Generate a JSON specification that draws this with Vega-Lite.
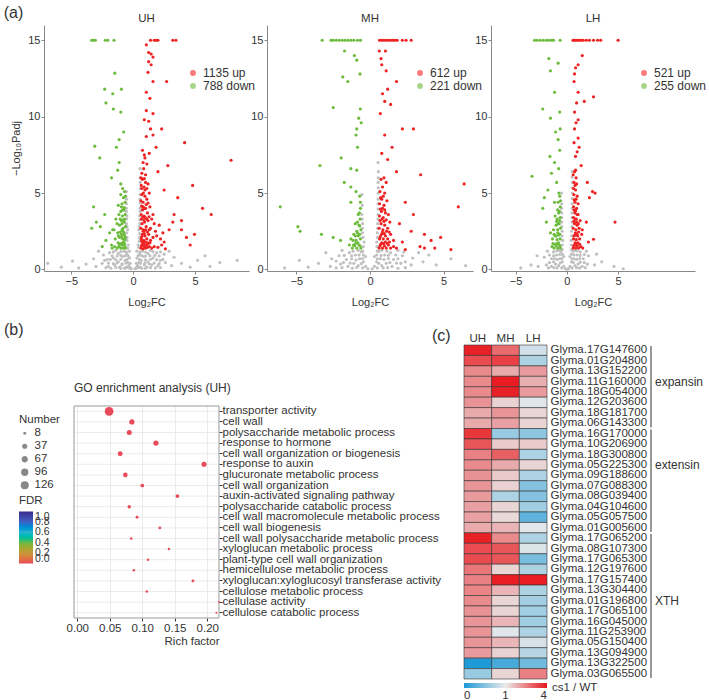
{
"$schema": "https://vega.github.io/schema/vega-lite/v6.json",
"padding": {"left": 3, "top": 4, "right": 0, "bottom": 0},
"config": {
 "font": "Liberation Sans",
 "view": {"stroke": null},
 "axis": {"labelColor": "#333", "titleColor": "#333", "labelFontSize": 11, "titleFontSize": 11, "titleFontWeight": "normal", "domainColor": "#888", "tickColor": "#888", "tickSize": 3, "grid": false},
 "title": {"fontSize": 11.5, "fontWeight": "normal", "color": "#333"},
 "legend": {"labelColor": "#333", "titleColor": "#333", "labelFontSize": 11.5, "titleFontSize": 11.5, "titleFontWeight": "normal", "labelOverlap": false}
},
"datasets": {
"uh": [
{"x":-0.15,"y":0.05,"g":"n"},{"x":0.15,"y":0.05,"g":"n"},{"x":-0.25,"y":0.12,"g":"n"},{"x":0.25,"y":0.12,"g":"n"},{"x":-0.35,"y":0.25,"g":"n"},{"x":0.35,"y":0.25,"g":"n"},{"x":-0.5,"y":0.15,"g":"n"},{"x":0.5,"y":0.15,"g":"n"},{"x":-0.7,"y":0.08,"g":"n"},{"x":0.7,"y":0.08,"g":"n"},{"x":-0.45,"y":0.45,"g":"n"},{"x":0.45,"y":0.45,"g":"n"},{"x":-0.9,"y":0.3,"g":"n"},{"x":0.9,"y":0.3,"g":"n"},{"x":-0.65,"y":0.6,"g":"n"},{"x":0.65,"y":0.6,"g":"n"},{"x":-1.1,"y":0.15,"g":"n"},{"x":1.1,"y":0.15,"g":"n"},{"x":-1.2,"y":0.5,"g":"n"},{"x":1.2,"y":0.5,"g":"n"},{"x":-0.85,"y":0.85,"g":"n"},{"x":0.85,"y":0.85,"g":"n"},{"x":-1.5,"y":0.3,"g":"n"},{"x":1.5,"y":0.3,"g":"n"},{"x":-1.6,"y":0.75,"g":"n"},{"x":1.6,"y":0.75,"g":"n"},{"x":-1.2,"y":1.05,"g":"n"},{"x":1.2,"y":1.05,"g":"n"},{"x":-2.0,"y":0.2,"g":"n"},{"x":2.0,"y":0.25,"g":"n"},{"x":-2.1,"y":0.65,"g":"n"},{"x":2.2,"y":0.6,"g":"n"},{"x":-1.9,"y":1.1,"g":"n"},{"x":1.9,"y":1.1,"g":"n"},{"x":-2.5,"y":0.4,"g":"n"},{"x":2.6,"y":0.45,"g":"n"},{"x":-2.4,"y":0.95,"g":"n"},{"x":2.5,"y":1.0,"g":"n"},{"x":-3.0,"y":0.2,"g":"n"},{"x":3.1,"y":0.25,"g":"n"},{"x":-3.2,"y":0.7,"g":"n"},{"x":3.3,"y":0.8,"g":"n"},{"x":-0.5,"y":1.0,"g":"n"},{"x":0.5,"y":1.0,"g":"n"},{"x":-0.4,"y":1.6,"g":"n"},{"x":0.4,"y":1.6,"g":"n"},{"x":-0.5,"y":2.1,"g":"n"},{"x":0.5,"y":2.1,"g":"n"},{"x":-0.45,"y":2.6,"g":"n"},{"x":0.45,"y":2.6,"g":"n"},{"x":-0.55,"y":3.0,"g":"n"},{"x":0.55,"y":3.0,"g":"n"},{"x":-0.5,"y":3.5,"g":"n"},{"x":0.52,"y":3.5,"g":"n"},{"x":-0.55,"y":4.0,"g":"n"},{"x":0.56,"y":4.0,"g":"n"},{"x":-0.53,"y":4.6,"g":"n"},{"x":0.56,"y":4.6,"g":"n"},{"x":-0.55,"y":5.1,"g":"n"},{"x":0.57,"y":5.3,"g":"n"},{"x":0.55,"y":6.0,"g":"n"},{"x":0.56,"y":6.6,"g":"n"},{"x":-0.3,"y":0.75,"g":"n"},{"x":0.3,"y":0.75,"g":"n"},{"x":-0.3,"y":1.2,"g":"n"},{"x":0.3,"y":1.2,"g":"n"},{"x":-3.8,"y":0.35,"g":"n"},{"x":3.9,"y":0.4,"g":"n"},{"x":-4.4,"y":0.1,"g":"n"},{"x":4.6,"y":0.15,"g":"n"},{"x":-4.9,"y":0.55,"g":"n"},{"x":5.2,"y":0.6,"g":"n"},{"x":-6.9,"y":0.4,"g":"n"},{"x":6.2,"y":0.2,"g":"n"},{"x":7.0,"y":0.45,"g":"n"},{"x":8.4,"y":0.6,"g":"n"},{"x":5.8,"y":0.9,"g":"n"},{"x":-5.8,"y":0.15,"g":"n"},{"x":-2.8,"y":1.2,"g":"n"},{"x":2.9,"y":1.2,"g":"n"},{"x":-1.4,"y":1.25,"g":"n"},{"x":1.4,"y":1.25,"g":"n"},{"x":-0.75,"y":1.2,"g":"n"},{"x":0.75,"y":1.2,"g":"n"},
{"x":-2.2,"y":0.12,"g":"n"},{"x":-1.8,"y":0.08,"g":"n"},{"x":-1.4,"y":0.13,"g":"n"},{"x":-1.0,"y":0.07,"g":"n"},{"x":-0.6,"y":0.12,"g":"n"},{"x":-0.3,"y":0.1,"g":"n"},{"x":0.3,"y":0.1,"g":"n"},{"x":0.6,"y":0.13,"g":"n"},{"x":1.0,"y":0.08,"g":"n"},{"x":1.4,"y":0.12,"g":"n"},{"x":1.8,"y":0.1,"g":"n"},{"x":2.2,"y":0.13,"g":"n"},{"x":-2.0,"y":0.42,"g":"n"},{"x":-1.6,"y":0.38,"g":"n"},{"x":-1.3,"y":0.43,"g":"n"},{"x":-0.9,"y":0.37,"g":"n"},{"x":-0.6,"y":0.42,"g":"n"},{"x":-0.25,"y":0.4,"g":"n"},{"x":0.25,"y":0.4,"g":"n"},{"x":0.6,"y":0.4,"g":"n"},{"x":0.95,"y":0.43,"g":"n"},{"x":1.3,"y":0.37,"g":"n"},{"x":1.7,"y":0.42,"g":"n"},{"x":2.1,"y":0.38,"g":"n"},{"x":-1.85,"y":0.66,"g":"n"},{"x":-1.4,"y":0.63,"g":"n"},{"x":-1.0,"y":0.67,"g":"n"},{"x":-0.5,"y":0.64,"g":"n"},{"x":0.5,"y":0.66,"g":"n"},{"x":1.0,"y":0.63,"g":"n"},{"x":1.4,"y":0.67,"g":"n"},{"x":1.9,"y":0.64,"g":"n"},{"x":-2.3,"y":0.6,"g":"n"},{"x":2.4,"y":0.66,"g":"n"},{"x":-1.7,"y":0.9,"g":"n"},{"x":-1.3,"y":0.88,"g":"n"},{"x":-1.0,"y":0.92,"g":"n"},{"x":-0.65,"y":0.9,"g":"n"},{"x":-0.4,"y":0.88,"g":"n"},{"x":0.4,"y":0.9,"g":"n"},{"x":0.65,"y":0.92,"g":"n"},{"x":1.0,"y":0.88,"g":"n"},{"x":1.35,"y":0.9,"g":"n"},{"x":1.75,"y":0.92,"g":"n"},{"x":2.1,"y":0.88,"g":"n"},{"x":-1.6,"y":1.15,"g":"n"},{"x":-1.0,"y":1.17,"g":"n"},{"x":-0.55,"y":1.14,"g":"n"},{"x":0.55,"y":1.16,"g":"n"},{"x":1.0,"y":1.14,"g":"n"},{"x":1.6,"y":1.17,"g":"n"},{"x":2.2,"y":1.15,"g":"n"},{"x":-0.45,"y":1.4,"g":"n"},{"x":0.45,"y":1.45,"g":"n"},{"x":-0.5,"y":1.9,"g":"n"},{"x":0.5,"y":1.85,"g":"n"},{"x":-0.52,"y":2.4,"g":"n"},{"x":0.52,"y":2.35,"g":"n"},{"x":-0.5,"y":2.8,"g":"n"},{"x":0.5,"y":2.8,"g":"n"},{"x":-0.53,"y":3.3,"g":"n"},{"x":0.54,"y":3.25,"g":"n"},{"x":-0.55,"y":3.8,"g":"n"},{"x":0.55,"y":3.8,"g":"n"},{"x":-0.55,"y":4.3,"g":"n"},{"x":0.56,"y":4.35,"g":"n"},{"x":0.56,"y":4.9,"g":"n"},{"x":0.57,"y":5.7,"g":"n"},
{"x":-3.35,"y":15,"g":"d"},{"x":-3.2,"y":15,"g":"d"},{"x":-3.05,"y":15,"g":"d"},{"x":-2.25,"y":15,"g":"d"},{"x":-2.05,"y":15,"g":"d"},{"x":-1.55,"y":15,"g":"d"},{"x":-1.49,"y":12.85,"g":"d"},{"x":-2.3,"y":11.8,"g":"d"},{"x":-0.95,"y":11.8,"g":"d"},{"x":-1.65,"y":11.5,"g":"d"},{"x":-2.2,"y":10.9,"g":"d"},{"x":-1.6,"y":10.5,"g":"d"},{"x":-1.0,"y":10.3,"g":"d"},{"x":-0.77,"y":9.0,"g":"d"},{"x":-1.13,"y":8.5,"g":"d"},{"x":-3.1,"y":8.07,"g":"d"},{"x":-1.35,"y":8.0,"g":"d"},{"x":-2.7,"y":7.3,"g":"d"},{"x":-1.13,"y":7.0,"g":"d"},{"x":-1.25,"y":6.5,"g":"d"},{"x":-1.75,"y":6.0,"g":"d"},{"x":-1.0,"y":5.6,"g":"d"},{"x":-3.2,"y":4.1,"g":"d"},{"x":-2.3,"y":3.6,"g":"d"},{"x":-2.97,"y":3.1,"g":"d"},{"x":-3.35,"y":2.7,"g":"d"},{"x":-2.65,"y":2.8,"g":"d"},{"x":-1.9,"y":2.4,"g":"d"},{"x":-1.65,"y":2.6,"g":"d"},{"x":-1.75,"y":1.6,"g":"d"},{"x":-2.2,"y":1.9,"g":"d"},{"x":-2.5,"y":1.5,"g":"d"},
{"x":-0.62,"y":1.4,"g":"d"},{"x":-0.7,"y":1.7,"g":"d"},{"x":-0.8,"y":1.4,"g":"d"},{"x":-0.9,"y":1.6,"g":"d"},{"x":-1.0,"y":1.4,"g":"d"},{"x":-1.15,"y":1.5,"g":"d"},{"x":-1.3,"y":1.4,"g":"d"},{"x":-1.5,"y":1.5,"g":"d"},{"x":-1.7,"y":1.4,"g":"d"},{"x":-0.65,"y":2.1,"g":"d"},{"x":-0.75,"y":2.4,"g":"d"},{"x":-0.85,"y":2.0,"g":"d"},{"x":-0.95,"y":2.3,"g":"d"},{"x":-1.1,"y":2.1,"g":"d"},{"x":-1.25,"y":2.4,"g":"d"},{"x":-1.45,"y":2.0,"g":"d"},{"x":-0.62,"y":2.8,"g":"d"},{"x":-0.72,"y":3.1,"g":"d"},{"x":-0.83,"y":2.7,"g":"d"},{"x":-0.95,"y":3.2,"g":"d"},{"x":-1.1,"y":2.9,"g":"d"},{"x":-1.3,"y":3.0,"g":"d"},{"x":-0.65,"y":3.6,"g":"d"},{"x":-0.75,"y":3.9,"g":"d"},{"x":-0.87,"y":3.5,"g":"d"},{"x":-1.0,"y":3.8,"g":"d"},{"x":-1.15,"y":3.6,"g":"d"},{"x":-0.65,"y":4.4,"g":"d"},{"x":-0.78,"y":4.7,"g":"d"},{"x":-0.9,"y":4.3,"g":"d"},{"x":-1.0,"y":4.9,"g":"d"},{"x":-0.7,"y":5.1,"g":"d"},{"x":-1.2,"y":4.2,"g":"d"},{"x":-1.4,"y":3.3,"g":"d"},{"x":-1.55,"y":2.6,"g":"d"},{"x":-0.68,"y":1.95,"g":"d"},{"x":-0.9,"y":2.6,"g":"d"},
{"x":-0.68,"y":1.55,"g":"d"},{"x":-0.78,"y":1.8,"g":"d"},{"x":-0.88,"y":1.7,"g":"d"},{"x":-1.0,"y":1.7,"g":"d"},{"x":-1.1,"y":1.65,"g":"d"},{"x":-1.22,"y":1.75,"g":"d"},{"x":-0.7,"y":2.25,"g":"d"},{"x":-0.82,"y":2.5,"g":"d"},{"x":-0.92,"y":2.15,"g":"d"},{"x":-1.05,"y":2.45,"g":"d"},{"x":-1.2,"y":2.2,"g":"d"},{"x":-0.68,"y":3.3,"g":"d"},{"x":-0.8,"y":3.25,"g":"d"},{"x":-0.9,"y":3.0,"g":"d"},{"x":-1.05,"y":3.3,"g":"d"},{"x":-0.72,"y":4.05,"g":"d"},{"x":-0.85,"y":3.9,"g":"d"},{"x":-0.95,"y":4.1,"g":"d"},{"x":-0.62,"y":4.8,"g":"d"},{"x":-0.85,"y":5.3,"g":"d"},
{"x":1.4,"y":15,"g":"u"},{"x":1.7,"y":15,"g":"u"},{"x":1.85,"y":15,"g":"u"},{"x":2.0,"y":15,"g":"u"},{"x":3.2,"y":15,"g":"u"},{"x":3.45,"y":15,"g":"u"},{"x":1.06,"y":14.7,"g":"u"},{"x":1.25,"y":14.2,"g":"u"},{"x":1.45,"y":14.1,"g":"u"},{"x":1.6,"y":13.9,"g":"u"},{"x":1.25,"y":13.6,"g":"u"},{"x":1.45,"y":13.4,"g":"u"},{"x":1.2,"y":12.9,"g":"u"},{"x":1.6,"y":12.3,"g":"u"},{"x":2.7,"y":12.3,"g":"u"},{"x":1.06,"y":11.6,"g":"u"},{"x":1.35,"y":11.2,"g":"u"},{"x":1.06,"y":10.4,"g":"u"},{"x":1.6,"y":10.2,"g":"u"},{"x":0.9,"y":9.8,"g":"u"},{"x":1.25,"y":9.7,"g":"u"},{"x":1.4,"y":9.2,"g":"u"},{"x":2.3,"y":9.2,"g":"u"},{"x":1.06,"y":8.7,"g":"u"},{"x":1.6,"y":8.8,"g":"u"},{"x":4.15,"y":8.3,"g":"u"},{"x":1.85,"y":8.0,"g":"u"},{"x":0.9,"y":7.5,"g":"u"},{"x":7.9,"y":7.15,"g":"u"},{"x":2.8,"y":6.8,"g":"u"},{"x":2.0,"y":6.4,"g":"u"},{"x":4.8,"y":5.5,"g":"u"},{"x":5.6,"y":4.0,"g":"u"},{"x":6.3,"y":3.6,"g":"u"},{"x":3.6,"y":4.7,"g":"u"},{"x":2.5,"y":5.2,"g":"u"},{"x":3.3,"y":3.6,"g":"u"},{"x":3.9,"y":3.2,"g":"u"},{"x":4.95,"y":2.3,"g":"u"},{"x":4.6,"y":1.6,"g":"u"},{"x":4.3,"y":2.1,"g":"u"},{"x":3.2,"y":3.1,"g":"u"},{"x":2.9,"y":2.6,"g":"u"},{"x":3.9,"y":2.6,"g":"u"},
{"x":0.62,"y":1.4,"g":"u"},{"x":0.7,"y":1.6,"g":"u"},{"x":0.8,"y":1.35,"g":"u"},{"x":0.9,"y":1.5,"g":"u"},{"x":1.0,"y":1.4,"g":"u"},{"x":1.15,"y":1.45,"g":"u"},{"x":1.3,"y":1.5,"g":"u"},{"x":1.5,"y":1.4,"g":"u"},{"x":1.7,"y":1.5,"g":"u"},{"x":2.0,"y":1.45,"g":"u"},{"x":2.3,"y":1.6,"g":"u"},{"x":0.65,"y":2.0,"g":"u"},{"x":0.75,"y":2.3,"g":"u"},{"x":0.85,"y":1.9,"g":"u"},{"x":0.95,"y":2.2,"g":"u"},{"x":1.1,"y":2.0,"g":"u"},{"x":1.25,"y":2.3,"g":"u"},{"x":1.4,"y":1.9,"g":"u"},{"x":1.6,"y":2.1,"g":"u"},{"x":1.9,"y":2.2,"g":"u"},{"x":2.2,"y":2.0,"g":"u"},{"x":2.5,"y":1.8,"g":"u"},{"x":0.62,"y":2.7,"g":"u"},{"x":0.72,"y":3.0,"g":"u"},{"x":0.82,"y":2.6,"g":"u"},{"x":0.92,"y":3.1,"g":"u"},{"x":1.05,"y":2.8,"g":"u"},{"x":1.2,"y":3.2,"g":"u"},{"x":1.4,"y":2.7,"g":"u"},{"x":1.7,"y":3.0,"g":"u"},{"x":2.1,"y":2.9,"g":"u"},{"x":0.64,"y":3.6,"g":"u"},{"x":0.75,"y":3.9,"g":"u"},{"x":0.88,"y":3.5,"g":"u"},{"x":1.0,"y":4.0,"g":"u"},{"x":1.15,"y":3.7,"g":"u"},{"x":1.35,"y":4.1,"g":"u"},{"x":1.6,"y":3.6,"g":"u"},{"x":0.62,"y":4.5,"g":"u"},{"x":0.7,"y":4.9,"g":"u"},{"x":0.8,"y":4.4,"g":"u"},{"x":0.95,"y":4.8,"g":"u"},{"x":1.1,"y":4.6,"g":"u"},{"x":1.3,"y":5.0,"g":"u"},{"x":0.65,"y":5.5,"g":"u"},{"x":0.75,"y":5.9,"g":"u"},{"x":0.88,"y":5.4,"g":"u"},{"x":1.0,"y":5.7,"g":"u"},{"x":1.2,"y":5.6,"g":"u"},{"x":0.7,"y":6.3,"g":"u"},{"x":0.85,"y":6.6,"g":"u"},{"x":1.0,"y":6.2,"g":"u"},{"x":0.8,"y":7.0,"g":"u"},{"x":0.95,"y":7.3,"g":"u"},{"x":1.1,"y":6.9,"g":"u"},{"x":0.75,"y":7.8,"g":"u"},{"x":1.3,"y":7.6,"g":"u"},{"x":2.6,"y":1.35,"g":"u"},{"x":1.8,"y":2.5,"g":"u"},{"x":1.5,"y":3.3,"g":"u"},{"x":2.4,"y":2.4,"g":"u"},{"x":0.68,"y":1.85,"g":"u"},{"x":0.9,"y":2.55,"g":"u"},{"x":1.15,"y":1.75,"g":"u"},
{"x":0.68,"y":1.55,"g":"u"},{"x":0.78,"y":1.75,"g":"u"},{"x":0.88,"y":1.65,"g":"u"},{"x":0.98,"y":1.8,"g":"u"},{"x":1.08,"y":1.6,"g":"u"},{"x":1.2,"y":1.7,"g":"u"},{"x":1.35,"y":1.75,"g":"u"},{"x":0.7,"y":2.15,"g":"u"},{"x":0.8,"y":2.5,"g":"u"},{"x":0.9,"y":2.35,"g":"u"},{"x":1.0,"y":2.6,"g":"u"},{"x":1.15,"y":2.45,"g":"u"},{"x":1.3,"y":2.6,"g":"u"},{"x":0.67,"y":3.3,"g":"u"},{"x":0.77,"y":3.45,"g":"u"},{"x":0.87,"y":3.25,"g":"u"},{"x":0.98,"y":3.4,"g":"u"},{"x":1.1,"y":3.3,"g":"u"},{"x":1.28,"y":3.45,"g":"u"},{"x":0.68,"y":4.15,"g":"u"},{"x":0.8,"y":4.1,"g":"u"},{"x":0.9,"y":4.0,"g":"u"},{"x":1.05,"y":4.25,"g":"u"},{"x":1.2,"y":4.35,"g":"u"},{"x":0.7,"y":5.3,"g":"u"},{"x":0.82,"y":5.0,"g":"u"},{"x":0.95,"y":5.2,"g":"u"},{"x":1.1,"y":5.3,"g":"u"},{"x":0.63,"y":6.0,"g":"u"},{"x":0.9,"y":5.95,"g":"u"}
],
"mh": [
{"x":-0.15,"y":0.05,"g":"n"},{"x":0.15,"y":0.05,"g":"n"},{"x":-0.3,"y":0.2,"g":"n"},{"x":0.3,"y":0.2,"g":"n"},{"x":-0.5,"y":0.1,"g":"n"},{"x":0.5,"y":0.1,"g":"n"},{"x":-0.45,"y":0.5,"g":"n"},{"x":0.45,"y":0.5,"g":"n"},{"x":-0.8,"y":0.25,"g":"n"},{"x":0.8,"y":0.25,"g":"n"},{"x":-0.7,"y":0.7,"g":"n"},{"x":0.7,"y":0.7,"g":"n"},{"x":-1.1,"y":0.4,"g":"n"},{"x":1.1,"y":0.4,"g":"n"},{"x":-1.0,"y":0.95,"g":"n"},{"x":1.0,"y":0.95,"g":"n"},{"x":-1.5,"y":0.2,"g":"n"},{"x":1.5,"y":0.2,"g":"n"},{"x":-1.6,"y":0.65,"g":"n"},{"x":1.6,"y":0.65,"g":"n"},{"x":-1.4,"y":1.1,"g":"n"},{"x":1.4,"y":1.1,"g":"n"},{"x":-2.0,"y":0.35,"g":"n"},{"x":2.1,"y":0.4,"g":"n"},{"x":-2.1,"y":0.9,"g":"n"},{"x":2.2,"y":0.9,"g":"n"},{"x":-2.7,"y":0.2,"g":"n"},{"x":2.8,"y":0.3,"g":"n"},{"x":-2.6,"y":0.7,"g":"n"},{"x":2.9,"y":0.75,"g":"n"},{"x":-0.5,"y":1.2,"g":"n"},{"x":0.5,"y":1.2,"g":"n"},{"x":-0.4,"y":1.8,"g":"n"},{"x":0.45,"y":1.8,"g":"n"},{"x":-0.5,"y":2.4,"g":"n"},{"x":0.5,"y":2.4,"g":"n"},{"x":-0.5,"y":3.0,"g":"n"},{"x":0.52,"y":3.0,"g":"n"},{"x":-0.55,"y":3.6,"g":"n"},{"x":0.55,"y":3.6,"g":"n"},{"x":-0.52,"y":4.2,"g":"n"},{"x":0.55,"y":4.3,"g":"n"},{"x":-0.55,"y":4.9,"g":"n"},{"x":0.56,"y":5.0,"g":"n"},{"x":0.55,"y":5.7,"g":"n"},{"x":0.57,"y":6.4,"g":"n"},{"x":0.55,"y":7.0,"g":"n"},{"x":-0.3,"y":0.85,"g":"n"},{"x":0.3,"y":0.85,"g":"n"},{"x":-3.5,"y":0.4,"g":"n"},{"x":3.6,"y":0.5,"g":"n"},{"x":-4.2,"y":0.15,"g":"n"},{"x":4.5,"y":0.3,"g":"n"},{"x":-5.8,"y":0.1,"g":"n"},{"x":5.5,"y":0.7,"g":"n"},{"x":6.5,"y":0.25,"g":"n"},{"x":-4.8,"y":0.6,"g":"n"},{"x":3.3,"y":1.1,"g":"n"},{"x":-3.0,"y":1.1,"g":"n"},{"x":-1.9,"y":1.25,"g":"n"},{"x":1.9,"y":1.25,"g":"n"},{"x":-0.8,"y":1.25,"g":"n"},{"x":0.8,"y":1.25,"g":"n"},{"x":4.0,"y":0.95,"g":"n"},
{"x":-2.3,"y":0.1,"g":"n"},{"x":-1.9,"y":0.12,"g":"n"},{"x":-1.2,"y":0.08,"g":"n"},{"x":-0.9,"y":0.13,"g":"n"},{"x":0.9,"y":0.1,"g":"n"},{"x":1.2,"y":0.12,"g":"n"},{"x":1.9,"y":0.08,"g":"n"},{"x":2.4,"y":0.12,"g":"n"},{"x":-1.8,"y":0.45,"g":"n"},{"x":-1.35,"y":0.42,"g":"n"},{"x":-0.6,"y":0.38,"g":"n"},{"x":0.6,"y":0.4,"g":"n"},{"x":1.35,"y":0.45,"g":"n"},{"x":1.8,"y":0.42,"g":"n"},{"x":2.4,"y":0.5,"g":"n"},{"x":-2.3,"y":0.55,"g":"n"},{"x":-1.25,"y":0.7,"g":"n"},{"x":-0.95,"y":0.62,"g":"n"},{"x":-0.5,"y":0.72,"g":"n"},{"x":0.5,"y":0.7,"g":"n"},{"x":0.95,"y":0.65,"g":"n"},{"x":1.25,"y":0.72,"g":"n"},{"x":1.9,"y":0.7,"g":"n"},{"x":-1.75,"y":0.92,"g":"n"},{"x":-1.25,"y":0.9,"g":"n"},{"x":-0.75,"y":0.95,"g":"n"},{"x":-0.45,"y":0.95,"g":"n"},{"x":0.45,"y":0.95,"g":"n"},{"x":0.75,"y":0.92,"g":"n"},{"x":1.25,"y":0.93,"g":"n"},{"x":1.75,"y":0.95,"g":"n"},{"x":-1.15,"y":1.2,"g":"n"},{"x":-0.6,"y":1.15,"g":"n"},{"x":0.6,"y":1.18,"g":"n"},{"x":1.15,"y":1.2,"g":"n"},{"x":2.3,"y":1.15,"g":"n"},{"x":-0.45,"y":1.5,"g":"n"},{"x":0.47,"y":1.5,"g":"n"},{"x":-0.48,"y":2.1,"g":"n"},{"x":0.5,"y":2.1,"g":"n"},{"x":-0.52,"y":2.7,"g":"n"},{"x":0.52,"y":2.7,"g":"n"},{"x":-0.53,"y":3.3,"g":"n"},{"x":0.54,"y":3.3,"g":"n"},{"x":0.55,"y":3.95,"g":"n"},{"x":0.56,"y":4.6,"g":"n"},{"x":0.56,"y":5.35,"g":"n"},{"x":0.57,"y":6.0,"g":"n"},
{"x":-3.25,"y":15,"g":"d"},{"x":-2.65,"y":15,"g":"d"},{"x":-2.5,"y":15,"g":"d"},{"x":-2.3,"y":15,"g":"d"},{"x":-2.1,"y":15,"g":"d"},{"x":-1.9,"y":15,"g":"d"},{"x":-1.7,"y":15,"g":"d"},{"x":-1.5,"y":15,"g":"d"},{"x":-1.3,"y":15,"g":"d"},{"x":-1.1,"y":15,"g":"d"},{"x":-0.85,"y":15,"g":"d"},{"x":-0.65,"y":15,"g":"d"},{"x":-1.73,"y":14.3,"g":"d"},{"x":-1.06,"y":14.0,"g":"d"},{"x":-0.9,"y":13.7,"g":"d"},{"x":-0.68,"y":12.8,"g":"d"},{"x":-1.85,"y":12.6,"g":"d"},{"x":-1.51,"y":12.3,"g":"d"},{"x":-2.5,"y":10.6,"g":"d"},{"x":-0.66,"y":10.5,"g":"d"},{"x":-0.77,"y":9.9,"g":"d"},{"x":-0.6,"y":9.6,"g":"d"},{"x":-0.9,"y":9.2,"g":"d"},{"x":-0.95,"y":8.8,"g":"d"},{"x":-0.85,"y":8.0,"g":"d"},{"x":-1.96,"y":7.3,"g":"d"},{"x":-3.4,"y":6.8,"g":"d"},{"x":-1.3,"y":6.6,"g":"d"},{"x":-0.9,"y":6.5,"g":"d"},{"x":-1.75,"y":5.7,"g":"d"},{"x":-1.3,"y":5.4,"g":"d"},{"x":-0.95,"y":5.1,"g":"d"},{"x":-1.3,"y":4.4,"g":"d"},{"x":-6.1,"y":4.1,"g":"d"},{"x":-4.9,"y":2.8,"g":"d"},{"x":-4.75,"y":2.5,"g":"d"},{"x":-3.3,"y":2.3,"g":"d"},{"x":-2.5,"y":2.1,"g":"d"},{"x":-2.0,"y":1.9,"g":"d"},{"x":-1.4,"y":1.6,"g":"d"},
{"x":-0.62,"y":1.4,"g":"d"},{"x":-0.75,"y":1.6,"g":"d"},{"x":-0.9,"y":1.4,"g":"d"},{"x":-1.05,"y":1.55,"g":"d"},{"x":-1.2,"y":1.4,"g":"d"},{"x":-0.65,"y":2.0,"g":"d"},{"x":-0.8,"y":2.2,"g":"d"},{"x":-0.95,"y":1.9,"g":"d"},{"x":-1.1,"y":2.3,"g":"d"},{"x":-0.62,"y":2.6,"g":"d"},{"x":-0.75,"y":2.9,"g":"d"},{"x":-0.9,"y":2.5,"g":"d"},{"x":-1.0,"y":3.0,"g":"d"},{"x":-0.68,"y":3.3,"g":"d"},{"x":-0.8,"y":3.6,"g":"d"},{"x":-0.65,"y":4.0,"g":"d"},{"x":-1.3,"y":2.0,"g":"d"},{"x":-0.7,"y":4.8,"g":"d"},
{"x":-0.68,"y":1.55,"g":"d"},{"x":-0.82,"y":1.75,"g":"d"},{"x":-0.98,"y":1.7,"g":"d"},{"x":-1.12,"y":1.6,"g":"d"},{"x":-0.7,"y":2.3,"g":"d"},{"x":-0.85,"y":2.4,"g":"d"},{"x":-1.0,"y":2.2,"g":"d"},{"x":-0.7,"y":2.85,"g":"d"},{"x":-0.85,"y":3.1,"g":"d"},{"x":-0.72,"y":3.7,"g":"d"},{"x":-1.15,"y":1.9,"g":"d"},{"x":-0.65,"y":4.4,"g":"d"},
{"x":0.65,"y":15,"g":"u"},{"x":0.8,"y":15,"g":"u"},{"x":0.95,"y":15,"g":"u"},{"x":1.1,"y":15,"g":"u"},{"x":1.25,"y":15,"g":"u"},{"x":1.4,"y":15,"g":"u"},{"x":1.55,"y":15,"g":"u"},{"x":1.7,"y":15,"g":"u"},{"x":1.85,"y":15,"g":"u"},{"x":2.2,"y":15,"g":"u"},{"x":2.45,"y":15,"g":"u"},{"x":2.8,"y":15,"g":"u"},{"x":0.63,"y":14.3,"g":"u"},{"x":1.05,"y":14.3,"g":"u"},{"x":0.75,"y":13.8,"g":"u"},{"x":0.8,"y":13.4,"g":"u"},{"x":1.1,"y":13.0,"g":"u"},{"x":1.8,"y":12.3,"g":"u"},{"x":1.2,"y":11.8,"g":"u"},{"x":0.85,"y":11.5,"g":"u"},{"x":1.0,"y":11.0,"g":"u"},{"x":1.4,"y":10.8,"g":"u"},{"x":0.7,"y":10.2,"g":"u"},{"x":2.2,"y":9.2,"g":"u"},{"x":2.95,"y":9.2,"g":"u"},{"x":1.0,"y":8.8,"g":"u"},{"x":1.5,"y":8.0,"g":"u"},{"x":0.8,"y":7.6,"g":"u"},{"x":1.2,"y":7.2,"g":"u"},{"x":3.44,"y":6.2,"g":"u"},{"x":6.4,"y":5.6,"g":"u"},{"x":6.0,"y":4.1,"g":"u"},{"x":1.8,"y":6.4,"g":"u"},{"x":0.95,"y":6.0,"g":"u"},{"x":2.4,"y":4.4,"g":"u"},{"x":2.95,"y":3.6,"g":"u"},{"x":2.8,"y":2.5,"g":"u"},{"x":3.7,"y":2.3,"g":"u"},{"x":4.15,"y":1.9,"g":"u"},{"x":4.8,"y":2.1,"g":"u"},{"x":4.4,"y":1.4,"g":"u"},{"x":5.5,"y":1.3,"g":"u"},{"x":3.4,"y":1.5,"g":"u"},{"x":3.7,"y":1.4,"g":"u"},{"x":2.2,"y":1.8,"g":"u"},{"x":2.4,"y":1.3,"g":"u"},{"x":2.0,"y":3.0,"g":"u"},
{"x":0.62,"y":1.4,"g":"u"},{"x":0.72,"y":1.65,"g":"u"},{"x":0.85,"y":1.4,"g":"u"},{"x":0.98,"y":1.55,"g":"u"},{"x":1.1,"y":1.4,"g":"u"},{"x":1.25,"y":1.6,"g":"u"},{"x":1.4,"y":1.4,"g":"u"},{"x":1.6,"y":1.5,"g":"u"},{"x":1.8,"y":1.4,"g":"u"},{"x":0.65,"y":2.0,"g":"u"},{"x":0.78,"y":2.3,"g":"u"},{"x":0.9,"y":2.0,"g":"u"},{"x":1.05,"y":2.2,"g":"u"},{"x":1.2,"y":2.0,"g":"u"},{"x":1.4,"y":2.3,"g":"u"},{"x":1.6,"y":1.9,"g":"u"},{"x":0.62,"y":2.7,"g":"u"},{"x":0.75,"y":3.0,"g":"u"},{"x":0.88,"y":2.6,"g":"u"},{"x":1.0,"y":2.9,"g":"u"},{"x":1.2,"y":2.7,"g":"u"},{"x":1.35,"y":3.1,"g":"u"},{"x":0.64,"y":3.5,"g":"u"},{"x":0.78,"y":3.8,"g":"u"},{"x":0.9,"y":3.4,"g":"u"},{"x":1.05,"y":3.7,"g":"u"},{"x":1.25,"y":3.6,"g":"u"},{"x":0.65,"y":4.3,"g":"u"},{"x":0.8,"y":4.6,"g":"u"},{"x":0.95,"y":4.2,"g":"u"},{"x":1.15,"y":4.5,"g":"u"},{"x":0.68,"y":5.1,"g":"u"},{"x":0.85,"y":5.4,"g":"u"},{"x":1.0,"y":5.0,"g":"u"},{"x":0.75,"y":5.9,"g":"u"},{"x":1.1,"y":5.7,"g":"u"},
{"x":0.68,"y":1.55,"g":"u"},{"x":0.8,"y":1.75,"g":"u"},{"x":0.92,"y":1.7,"g":"u"},{"x":1.05,"y":1.8,"g":"u"},{"x":1.18,"y":1.7,"g":"u"},{"x":1.32,"y":1.8,"g":"u"},{"x":0.7,"y":2.15,"g":"u"},{"x":0.84,"y":2.45,"g":"u"},{"x":0.97,"y":2.35,"g":"u"},{"x":1.12,"y":2.5,"g":"u"},{"x":1.3,"y":2.45,"g":"u"},{"x":0.68,"y":3.2,"g":"u"},{"x":0.82,"y":3.3,"g":"u"},{"x":0.95,"y":3.15,"g":"u"},{"x":1.1,"y":3.25,"g":"u"},{"x":0.7,"y":3.95,"g":"u"},{"x":0.85,"y":4.0,"g":"u"},{"x":1.0,"y":3.9,"g":"u"},{"x":0.72,"y":4.7,"g":"u"},{"x":0.9,"y":4.8,"g":"u"}
],
"lh": [
{"x":-0.15,"y":0.05,"g":"n"},{"x":0.15,"y":0.05,"g":"n"},{"x":-0.3,"y":0.2,"g":"n"},{"x":0.3,"y":0.2,"g":"n"},{"x":-0.5,"y":0.1,"g":"n"},{"x":0.5,"y":0.1,"g":"n"},{"x":-0.45,"y":0.5,"g":"n"},{"x":0.45,"y":0.5,"g":"n"},{"x":-0.8,"y":0.25,"g":"n"},{"x":0.8,"y":0.25,"g":"n"},{"x":-0.7,"y":0.7,"g":"n"},{"x":0.7,"y":0.7,"g":"n"},{"x":-1.1,"y":0.35,"g":"n"},{"x":1.1,"y":0.35,"g":"n"},{"x":-1.0,"y":0.95,"g":"n"},{"x":1.0,"y":0.95,"g":"n"},{"x":-1.5,"y":0.2,"g":"n"},{"x":1.5,"y":0.2,"g":"n"},{"x":-1.5,"y":0.7,"g":"n"},{"x":1.6,"y":0.7,"g":"n"},{"x":-1.3,"y":1.15,"g":"n"},{"x":1.3,"y":1.15,"g":"n"},{"x":-2.0,"y":0.3,"g":"n"},{"x":2.0,"y":0.35,"g":"n"},{"x":-2.2,"y":0.8,"g":"n"},{"x":2.1,"y":0.9,"g":"n"},{"x":-2.8,"y":0.2,"g":"n"},{"x":2.7,"y":0.3,"g":"n"},{"x":-0.45,"y":1.3,"g":"n"},{"x":0.45,"y":1.3,"g":"n"},{"x":-0.4,"y":1.9,"g":"n"},{"x":0.42,"y":1.9,"g":"n"},{"x":-0.45,"y":2.5,"g":"n"},{"x":0.45,"y":2.5,"g":"n"},{"x":-0.5,"y":3.1,"g":"n"},{"x":0.5,"y":3.1,"g":"n"},{"x":-0.5,"y":3.7,"g":"n"},{"x":0.5,"y":3.7,"g":"n"},{"x":-0.5,"y":4.3,"g":"n"},{"x":0.52,"y":4.3,"g":"n"},{"x":-0.52,"y":5.0,"g":"n"},{"x":0.53,"y":5.0,"g":"n"},{"x":0.53,"y":5.7,"g":"n"},{"x":0.52,"y":6.4,"g":"n"},{"x":-0.3,"y":0.85,"g":"n"},{"x":0.3,"y":0.85,"g":"n"},{"x":-3.5,"y":0.3,"g":"n"},{"x":3.4,"y":0.5,"g":"n"},{"x":-4.5,"y":0.1,"g":"n"},{"x":4.6,"y":0.2,"g":"n"},{"x":5.5,"y":0.05,"g":"n"},{"x":-2.9,"y":0.9,"g":"n"},{"x":2.9,"y":1.0,"g":"n"},{"x":-1.9,"y":1.2,"g":"n"},{"x":1.9,"y":1.2,"g":"n"},{"x":-0.8,"y":1.25,"g":"n"},{"x":0.8,"y":1.25,"g":"n"},{"x":0.0,"y":0.02,"g":"n"},
{"x":-1.8,"y":0.1,"g":"n"},{"x":-1.25,"y":0.12,"g":"n"},{"x":-0.95,"y":0.1,"g":"n"},{"x":0.95,"y":0.12,"g":"n"},{"x":1.25,"y":0.1,"g":"n"},{"x":1.8,"y":0.12,"g":"n"},{"x":-1.7,"y":0.45,"g":"n"},{"x":-1.3,"y":0.5,"g":"n"},{"x":-0.65,"y":0.42,"g":"n"},{"x":0.65,"y":0.45,"g":"n"},{"x":1.3,"y":0.48,"g":"n"},{"x":1.7,"y":0.45,"g":"n"},{"x":-1.2,"y":0.72,"g":"n"},{"x":-0.95,"y":0.65,"g":"n"},{"x":-0.5,"y":0.72,"g":"n"},{"x":0.5,"y":0.7,"g":"n"},{"x":0.95,"y":0.66,"g":"n"},{"x":1.25,"y":0.72,"g":"n"},{"x":-1.7,"y":0.95,"g":"n"},{"x":-1.3,"y":0.9,"g":"n"},{"x":-0.7,"y":0.98,"g":"n"},{"x":-0.45,"y":1.0,"g":"n"},{"x":0.45,"y":1.0,"g":"n"},{"x":0.7,"y":0.96,"g":"n"},{"x":1.3,"y":0.92,"g":"n"},{"x":1.7,"y":0.98,"g":"n"},{"x":-1.0,"y":1.22,"g":"n"},{"x":-0.6,"y":1.18,"g":"n"},{"x":0.6,"y":1.2,"g":"n"},{"x":1.0,"y":1.22,"g":"n"},{"x":-0.45,"y":1.6,"g":"n"},{"x":0.45,"y":1.6,"g":"n"},{"x":-0.47,"y":2.2,"g":"n"},{"x":0.47,"y":2.2,"g":"n"},{"x":-0.5,"y":2.8,"g":"n"},{"x":0.5,"y":2.8,"g":"n"},{"x":-0.5,"y":3.4,"g":"n"},{"x":0.52,"y":3.4,"g":"n"},{"x":-0.52,"y":4.0,"g":"n"},{"x":0.53,"y":4.0,"g":"n"},{"x":0.53,"y":4.65,"g":"n"},{"x":0.53,"y":5.35,"g":"n"},{"x":0.52,"y":6.05,"g":"n"},
{"x":-3.15,"y":15,"g":"d"},{"x":-2.9,"y":15,"g":"d"},{"x":-2.6,"y":15,"g":"d"},{"x":-2.3,"y":15,"g":"d"},{"x":-2.0,"y":15,"g":"d"},{"x":-1.75,"y":15,"g":"d"},{"x":-1.5,"y":15,"g":"d"},{"x":-1.3,"y":15,"g":"d"},{"x":-0.65,"y":15,"g":"d"},{"x":-1.76,"y":13.8,"g":"d"},{"x":-0.85,"y":13.5,"g":"d"},{"x":-1.6,"y":13.0,"g":"d"},{"x":-1.2,"y":11.6,"g":"d"},{"x":-2.35,"y":10.5,"g":"d"},{"x":-1.6,"y":9.9,"g":"d"},{"x":-0.7,"y":10.3,"g":"d"},{"x":-1.1,"y":9.0,"g":"d"},{"x":-0.85,"y":8.5,"g":"d"},{"x":-1.65,"y":7.4,"g":"d"},{"x":-0.7,"y":7.8,"g":"d"},{"x":-1.2,"y":7.0,"g":"d"},{"x":-3.4,"y":6.1,"g":"d"},{"x":-1.5,"y":6.3,"g":"d"},{"x":-1.0,"y":5.7,"g":"d"},{"x":-1.85,"y":5.2,"g":"d"},{"x":-2.2,"y":4.7,"g":"d"},{"x":-2.35,"y":4.0,"g":"d"},{"x":-1.2,"y":4.4,"g":"d"},{"x":-2.0,"y":3.1,"g":"d"},{"x":-0.8,"y":6.6,"g":"d"},{"x":-0.65,"y":9.2,"g":"d"},
{"x":-0.62,"y":1.4,"g":"d"},{"x":-0.75,"y":1.6,"g":"d"},{"x":-0.9,"y":1.4,"g":"d"},{"x":-1.05,"y":1.55,"g":"d"},{"x":-1.25,"y":1.4,"g":"d"},{"x":-1.45,"y":1.5,"g":"d"},{"x":-0.65,"y":2.0,"g":"d"},{"x":-0.8,"y":2.25,"g":"d"},{"x":-0.95,"y":1.95,"g":"d"},{"x":-1.15,"y":2.2,"g":"d"},{"x":-1.4,"y":2.0,"g":"d"},{"x":-0.62,"y":2.7,"g":"d"},{"x":-0.75,"y":3.0,"g":"d"},{"x":-0.9,"y":2.6,"g":"d"},{"x":-1.05,"y":2.9,"g":"d"},{"x":-1.3,"y":2.6,"g":"d"},{"x":-0.65,"y":3.4,"g":"d"},{"x":-0.8,"y":3.7,"g":"d"},{"x":-0.95,"y":3.3,"g":"d"},{"x":-1.15,"y":3.5,"g":"d"},{"x":-0.65,"y":4.1,"g":"d"},{"x":-0.85,"y":4.4,"g":"d"},{"x":-0.7,"y":4.8,"g":"d"},{"x":-1.6,"y":2.4,"g":"d"},
{"x":-0.68,"y":1.55,"g":"d"},{"x":-0.82,"y":1.75,"g":"d"},{"x":-0.98,"y":1.7,"g":"d"},{"x":-1.15,"y":1.65,"g":"d"},{"x":-1.35,"y":1.7,"g":"d"},{"x":-0.7,"y":2.3,"g":"d"},{"x":-0.88,"y":2.4,"g":"d"},{"x":-1.05,"y":2.2,"g":"d"},{"x":-1.25,"y":2.3,"g":"d"},{"x":-0.7,"y":3.2,"g":"d"},{"x":-0.85,"y":3.0,"g":"d"},{"x":-1.0,"y":3.15,"g":"d"},{"x":-0.72,"y":3.8,"g":"d"},{"x":-0.9,"y":3.9,"g":"d"},{"x":-0.62,"y":4.5,"g":"d"},{"x":-0.78,"y":5.0,"g":"d"},
{"x":0.6,"y":15,"g":"u"},{"x":0.75,"y":15,"g":"u"},{"x":0.9,"y":15,"g":"u"},{"x":1.05,"y":15,"g":"u"},{"x":1.2,"y":15,"g":"u"},{"x":1.4,"y":15,"g":"u"},{"x":1.6,"y":15,"g":"u"},{"x":1.9,"y":15,"g":"u"},{"x":2.2,"y":15,"g":"u"},{"x":2.6,"y":15,"g":"u"},{"x":3.0,"y":15,"g":"u"},{"x":3.3,"y":15,"g":"u"},{"x":5.0,"y":15,"g":"u"},{"x":1.5,"y":14.0,"g":"u"},{"x":1.1,"y":13.4,"g":"u"},{"x":0.85,"y":13.2,"g":"u"},{"x":0.75,"y":12.8,"g":"u"},{"x":0.7,"y":12.3,"g":"u"},{"x":1.1,"y":11.6,"g":"u"},{"x":2.6,"y":11.3,"g":"u"},{"x":1.7,"y":11.0,"g":"u"},{"x":0.95,"y":10.9,"g":"u"},{"x":0.75,"y":10.3,"g":"u"},{"x":1.1,"y":9.8,"g":"u"},{"x":0.75,"y":9.2,"g":"u"},{"x":1.1,"y":8.6,"g":"u"},{"x":1.2,"y":8.0,"g":"u"},{"x":0.85,"y":7.4,"g":"u"},{"x":1.4,"y":6.8,"g":"u"},{"x":2.0,"y":5.7,"g":"u"},{"x":2.5,"y":5.1,"g":"u"},{"x":2.75,"y":5.0,"g":"u"},{"x":2.2,"y":4.7,"g":"u"},{"x":4.7,"y":3.1,"g":"u"},{"x":2.6,"y":1.98,"g":"u"},{"x":1.9,"y":3.1,"g":"u"},{"x":2.1,"y":1.8,"g":"u"},{"x":0.9,"y":9.6,"g":"u"},{"x":1.0,"y":7.7,"g":"u"},{"x":0.7,"y":8.3,"g":"u"},
{"x":0.62,"y":1.4,"g":"u"},{"x":0.75,"y":1.6,"g":"u"},{"x":0.88,"y":1.4,"g":"u"},{"x":1.0,"y":1.55,"g":"u"},{"x":1.15,"y":1.4,"g":"u"},{"x":1.35,"y":1.5,"g":"u"},{"x":1.55,"y":1.4,"g":"u"},{"x":0.65,"y":2.0,"g":"u"},{"x":0.78,"y":2.25,"g":"u"},{"x":0.92,"y":1.95,"g":"u"},{"x":1.05,"y":2.2,"g":"u"},{"x":1.25,"y":2.0,"g":"u"},{"x":1.45,"y":2.3,"g":"u"},{"x":0.62,"y":2.7,"g":"u"},{"x":0.75,"y":3.0,"g":"u"},{"x":0.88,"y":2.6,"g":"u"},{"x":1.0,"y":2.9,"g":"u"},{"x":1.2,"y":2.7,"g":"u"},{"x":0.64,"y":3.4,"g":"u"},{"x":0.78,"y":3.7,"g":"u"},{"x":0.92,"y":3.3,"g":"u"},{"x":1.1,"y":3.6,"g":"u"},{"x":0.65,"y":4.1,"g":"u"},{"x":0.8,"y":4.4,"g":"u"},{"x":0.95,"y":4.0,"g":"u"},{"x":1.1,"y":4.3,"g":"u"},{"x":0.68,"y":4.9,"g":"u"},{"x":0.85,"y":5.2,"g":"u"},{"x":1.0,"y":4.8,"g":"u"},{"x":0.7,"y":5.7,"g":"u"},{"x":0.9,"y":6.0,"g":"u"},{"x":0.75,"y":6.4,"g":"u"},{"x":1.3,"y":3.2,"g":"u"},{"x":1.5,"y":2.6,"g":"u"},
{"x":0.68,"y":1.55,"g":"u"},{"x":0.8,"y":1.75,"g":"u"},{"x":0.92,"y":1.7,"g":"u"},{"x":1.08,"y":1.75,"g":"u"},{"x":1.25,"y":1.65,"g":"u"},{"x":0.7,"y":2.2,"g":"u"},{"x":0.84,"y":2.4,"g":"u"},{"x":0.98,"y":2.3,"g":"u"},{"x":1.15,"y":2.45,"g":"u"},{"x":0.68,"y":3.15,"g":"u"},{"x":0.82,"y":3.3,"g":"u"},{"x":0.96,"y":3.1,"g":"u"},{"x":1.12,"y":3.0,"g":"u"},{"x":0.7,"y":3.9,"g":"u"},{"x":0.85,"y":3.85,"g":"u"},{"x":1.0,"y":3.6,"g":"u"},{"x":0.72,"y":4.55,"g":"u"},{"x":0.9,"y":4.6,"g":"u"},{"x":0.65,"y":5.3,"g":"u"},{"x":0.8,"y":5.5,"g":"u"},{"x":0.95,"y":5.6,"g":"u"},{"x":0.62,"y":6.2,"g":"u"},{"x":0.85,"y":6.5,"g":"u"}
],
"go": [
{"term":"transporter activity","rf":0.049,"n":220,"fdr":0.0001},
{"term":"cell wall","rf":0.084,"n":80,"fdr":0.001},
{"term":"polysaccharide metabolic process","rf":0.080,"n":72,"fdr":0.001},
{"term":"response to hormone","rf":0.121,"n":78,"fdr":0.002},
{"term":"cell wall organization or biogenesis","rf":0.066,"n":70,"fdr":0.002},
{"term":"response to auxin","rf":0.195,"n":76,"fdr":0.002},
{"term":"glucuronate metabolic process","rf":0.074,"n":60,"fdr":0.003},
{"term":"cell wall organization","rf":0.100,"n":40,"fdr":0.003},
{"term":"auxin-activated signaling pathway","rf":0.154,"n":40,"fdr":0.004},
{"term":"polysaccharide catabolic process","rf":0.080,"n":35,"fdr":0.005},
{"term":"cell wall macromolecule metabolic process","rf":0.092,"n":24,"fdr":0.005},
{"term":"cell wall biogenesis","rf":0.127,"n":24,"fdr":0.006},
{"term":"cell wall polysaccharide metabolic process","rf":0.083,"n":18,"fdr":0.006},
{"term":"xyloglucan metabolic process","rf":0.141,"n":18,"fdr":0.007},
{"term":"plant-type cell wall organization","rf":0.109,"n":18,"fdr":0.008},
{"term":"hemicellulose metabolic process","rf":0.087,"n":18,"fdr":0.008},
{"term":"xyloglucan:xyloglucosyl transferase activity","rf":0.178,"n":24,"fdr":0.009},
{"term":"cellulose metabolic process","rf":0.107,"n":18,"fdr":0.009},
{"term":"cellulase activity","rf":0.218,"n":12,"fdr":0.01},
{"term":"cellulose catabolic process","rf":0.214,"n":12,"fdr":0.01}
],
"heat": [
{"gene":"Glyma.17G147600","UH":3.8,"MH":2.56,"LH":0.77},
{"gene":"Glyma.01G204800","UH":3.06,"MH":3.24,"LH":0.49},
{"gene":"Glyma.13G152200","UH":2.1,"MH":1.69,"LH":1.9},
{"gene":"Glyma.11G160000","UH":2.1,"MH":3.88,"LH":1.64},
{"gene":"Glyma.18G054000","UH":2.1,"MH":3.8,"LH":1.9},
{"gene":"Glyma.12G203600","UH":2.0,"MH":1.25,"LH":0.9},
{"gene":"Glyma.18G181700","UH":1.69,"MH":1.96,"LH":1.21},
{"gene":"Glyma.06G143300","UH":1.69,"MH":1.82,"LH":1.21},
{"gene":"Glyma.16G170000","UH":3.42,"MH":0.36,"LH":0.3},
{"gene":"Glyma.10G206900","UH":2.89,"MH":1.32,"LH":1.32},
{"gene":"Glyma.18G300800","UH":2.25,"MH":2.72,"LH":0.49},
{"gene":"Glyma.05G225300","UH":2.1,"MH":1.69,"LH":1.21},
{"gene":"Glyma.09G188600","UH":2.0,"MH":1.32,"LH":0.49},
{"gene":"Glyma.07G088300","UH":1.96,"MH":1.25,"LH":0.25},
{"gene":"Glyma.08G039400","UH":1.9,"MH":0.49,"LH":0.25},
{"gene":"Glyma.04G104600","UH":1.82,"MH":1.21,"LH":0.42},
{"gene":"Glyma.05G057500","UH":1.82,"MH":1.17,"LH":0.1},
{"gene":"Glyma.01G005600","UH":1.69,"MH":1.56,"LH":0.9},
{"gene":"Glyma.17G065200","UH":3.8,"MH":2.1,"LH":0.49},
{"gene":"Glyma.08G107300","UH":3.06,"MH":2.89,"LH":0.85},
{"gene":"Glyma.17G065300","UH":3.06,"MH":2.89,"LH":0.2},
{"gene":"Glyma.12G197600","UH":2.4,"MH":1.21,"LH":0.49},
{"gene":"Glyma.17G157400","UH":2.25,"MH":3.88,"LH":3.88},
{"gene":"Glyma.13G304400","UH":2.19,"MH":1.56,"LH":0.49},
{"gene":"Glyma.01G196800","UH":2.1,"MH":1.21,"LH":0.42},
{"gene":"Glyma.17G065100","UH":2.0,"MH":1.21,"LH":0.42},
{"gene":"Glyma.16G045000","UH":1.96,"MH":1.56,"LH":0.42},
{"gene":"Glyma.11G253900","UH":1.96,"MH":0.9,"LH":0.49},
{"gene":"Glyma.05G150400","UH":1.96,"MH":1.56,"LH":0.81},
{"gene":"Glyma.13G094900","UH":1.9,"MH":1.25,"LH":0.56},
{"gene":"Glyma.13G322500","UH":0.0,"MH":0.04,"LH":0.16},
{"gene":"Glyma.03G065500","UH":0.36,"MH":1.21,"LH":2.25}
],
"brk": [
{"grp":"expansin","g1":"Glyma.17G147600","g2":"Glyma.06G143300","gl":"Glyma.11G160000"},
{"grp":"extensin","g1":"Glyma.16G170000","g2":"Glyma.01G005600","gl":"Glyma.05G225300"},
{"grp":"XTH","g1":"Glyma.17G065200","g2":"Glyma.03G065500","gl":"Glyma.01G196800"}
]
},
"resolve": {"scale": {"color": "independent", "size": "independent"}, "legend": {"color": "independent", "size": "independent"}},
"spacing": 15,
"vconcat": [
{
 "title": {"text": "(a)", "anchor": "start", "fontSize": 16, "offset": 0, "dy": 8, "dx": -7},
 "spacing": 18,
 "bounds": "flush",
 "resolve": {"scale": {"color": "independent", "x": "independent", "y": "independent"}, "legend": {"color": "independent"}},
 "hconcat": [
  {
   "width": 205, "height": 246,
   "title": {"text": "UH", "offset": 1},
   "data": {"name": "uh"},
   "mark": {"type": "circle", "size": 10, "opacity": 1},
   "encoding": {
    "x": {"field": "x", "type": "quantitative", "scale": {"domain": [-7.2, 9.35], "nice": false, "zero": false}, "axis": {"values": [-5, 0, 5], "title": "Log₂FC", "titlePadding": 10, "labelPadding": 1}},
    "y": {"field": "y", "type": "quantitative", "scale": {"domain": [-0.1, 16], "nice": false}, "axis": {"values": [0, 5, 10, 15], "title": "−Log₁₀Padj", "titlePadding": 6, "labelPadding": 1}},
    "color": {"field": "g", "type": "nominal", "scale": {"domain": ["u", "d", "n"], "range": ["#ee2222", "#6cbb3c", "#c0c0c0"]}, "legend": {"values": ["u", "d"], "labelExpr": "datum.label == 'u' ? '1135 up' : '788 down'", "orient": "none", "legendX": 143, "legendY": 42, "title": null, "symbolType": "circle", "symbolSize": 35, "symbolOpacity": 0.6, "labelFontSize": 12, "rowPadding": 1}}
   }
  },
  {
   "width": 206, "height": 246,
   "title": {"text": "MH", "offset": 1},
   "data": {"name": "mh"},
   "mark": {"type": "circle", "size": 10, "opacity": 1},
   "encoding": {
    "x": {"field": "x", "type": "quantitative", "scale": {"domain": [-7, 7], "nice": false, "zero": false}, "axis": {"values": [-5, 0, 5], "title": "Log₂FC", "titlePadding": 10, "labelPadding": 1}},
    "y": {"field": "y", "type": "quantitative", "scale": {"domain": [-0.1, 16], "nice": false}, "axis": {"values": [0, 5, 10, 15], "title": null, "labelPadding": 1}},
    "color": {"field": "g", "type": "nominal", "scale": {"domain": ["u", "d", "n"], "range": ["#ee2222", "#6cbb3c", "#c0c0c0"]}, "legend": {"values": ["u", "d"], "labelExpr": "datum.label == 'u' ? '612 up' : '221 down'", "orient": "none", "legendX": 147, "legendY": 42, "title": null, "symbolType": "circle", "symbolSize": 35, "symbolOpacity": 0.6, "labelFontSize": 12, "rowPadding": 1}}
   }
  },
  {
   "width": 204, "height": 246,
   "title": {"text": "LH", "offset": 1},
   "data": {"name": "lh"},
   "mark": {"type": "circle", "size": 10, "opacity": 1},
   "encoding": {
    "x": {"field": "x", "type": "quantitative", "scale": {"domain": [-7.4, 12.5], "nice": false, "zero": false}, "axis": {"values": [-5, 0, 5], "title": "Log₂FC", "titlePadding": 10, "labelPadding": 1}},
    "y": {"field": "y", "type": "quantitative", "scale": {"domain": [-0.1, 16], "nice": false}, "axis": {"values": [0, 5, 10, 15], "title": null, "labelPadding": 1}},
    "color": {"field": "g", "type": "nominal", "scale": {"domain": ["u", "d", "n"], "range": ["#ee2222", "#6cbb3c", "#c0c0c0"]}, "legend": {"values": ["u", "d"], "labelExpr": "datum.label == 'u' ? '521 up' : '255 down'", "orient": "none", "legendX": 147, "legendY": 42, "title": null, "symbolType": "circle", "symbolSize": 35, "symbolOpacity": 0.6, "labelFontSize": 12, "rowPadding": 1}}
   }
  }
 ]
},
{
 "title": {"text": "(b)", "anchor": "start", "fontSize": 16, "offset": 0, "dy": 10, "dx": -15},
 "center": true,
 "bounds": "flush",
 "spacing": 4,
 "resolve": {"scale": {"color": "independent", "y": "independent", "x": "independent", "size": "independent"}, "legend": {"color": "independent", "size": "independent"}},
 "hconcat": [
  {
   "width": 175, "height": 212,
   "title": {"text": "GO enrichment analysis (UH)", "anchor": "start", "frame": "group", "fontSize": 12, "offset": 10, "dx": 30},
   "data": {"name": "go"},
   "layer": [
    {
     "mark": {"type": "rule", "color": "#ebebeb", "strokeWidth": 1},
     "encoding": {
      "y": {"field": "term", "type": "nominal", "sort": null, "axis": {"orient": "right", "title": null, "grid": false, "domain": false, "labelFontSize": 11.5, "tickColor": "#333", "labelPadding": 0, "labelLimit": 400}},
      "x": {"datum": -0.005, "type": "quantitative", "scale": {"domain": [-0.005, 0.218], "range": [30, 175], "nice": false, "zero": false}, "axis": {"values": [0, 0.05, 0.1, 0.15, 0.2], "format": ".2f", "title": "Rich factor", "titleAnchor": "end", "grid": true, "gridColor": "#ebebeb", "domain": false, "tickColor": "#333", "labelFontSize": 11.5, "titleFontSize": 11.5, "labelPadding": 1, "titlePadding": 2}},
      "x2": {"datum": 0.218}
     }
    },
    {
     "data": {"values": [{"frame": "plot"}]},
     "mark": {"type": "rect", "fill": null, "stroke": "#999", "strokeWidth": 1},
     "encoding": {
      "x": {"datum": -0.005, "type": "quantitative"},
      "x2": {"datum": 0.218}
     }
    },
    {
     "mark": {"type": "circle", "opacity": 1},
     "encoding": {
      "x": {"field": "rf", "type": "quantitative"},
      "y": {"field": "term", "type": "nominal", "sort": null},
      "size": {"field": "n", "type": "quantitative", "scale": {"domain": [0, 230], "range": [0, 80]}, "legend": {"title": "Number", "values": [8, 37, 67, 96, 126], "orient": "none", "legendX": -25, "legendY": 8, "titlePadding": 2, "symbolFillColor": "#888", "symbolStrokeColor": "#888", "symbolType": "circle", "symbolOpacity": 1, "rowPadding": 0}},
      "color": {"field": "fdr", "type": "quantitative", "scale": {"domain": [0, 0.2, 0.4, 0.6, 0.8, 1], "range": ["#e8495a", "#c8963c", "#6aba45", "#2fb3d0", "#3f62c4", "#3a2a8a"]}, "legend": {"title": "FDR", "orient": "none", "legendX": -25, "legendY": 89, "values": [0, 0.2, 0.4, 0.6, 0.8, 1], "format": ".1f", "gradientLength": 52, "gradientThickness": 14, "labelFontSize": 10.5}}
     }
    }
   ]
  },
  {
   "width": 324, "height": 334,
   "title": {"text": "(c)", "anchor": "start", "frame": "group", "fontSize": 16, "dx": 209, "dy": 12, "offset": 0},
   "data": {"name": "heat"},
   "transform": [{"fold": ["UH", "MH", "LH"], "as": ["c", "v"]}],
   "mark": {"type": "rect", "stroke": "#333", "strokeWidth": 0.6},
   "encoding": {
    "x": {"field": "c", "type": "nominal", "sort": ["UH", "MH", "LH"], "scale": {"range": [241, 324], "paddingInner": 0, "paddingOuter": 0}, "axis": {"orient": "top", "title": null, "labelAngle": 0, "ticks": false, "domain": false, "labelPadding": 2, "labelFontSize": 11.5}},
    "y": {"field": "gene", "type": "nominal", "sort": null, "scale": {"paddingInner": 0, "paddingOuter": 0}, "axis": {"orient": "right", "title": null, "ticks": false, "domain": false, "labelPadding": 3, "labelFontSize": 11.5}},
    "color": {"field": "v", "type": "quantitative", "scale": {"type": "sqrt", "domain": [0, 1, 4], "range": ["#1e9ad6", "#eaeaea", "#e8161c"], "interpolate": "rgb"}, "legend": {"title": "cs1 / WT", "orient": "none", "legendX": 241, "legendY": 338, "direction": "horizontal", "values": [0, 1, 4], "gradientLength": 83, "gradientThickness": 5, "titleOrient": "right", "titleAnchor": "end", "titleBaseline": "middle", "labelFontSize": 11.5}}
   }
  },
  {
   "width": 155, "height": 334,
   "data": {"name": "brk"},
   "layer": [
    {"mark": {"type": "rule", "color": "#333", "strokeWidth": 1},
     "encoding": {
      "y": {"field": "g1", "type": "nominal", "bandPosition": 0.1, "scale": {"domain": ["Glyma.17G147600","Glyma.01G204800","Glyma.13G152200","Glyma.11G160000","Glyma.18G054000","Glyma.12G203600","Glyma.18G181700","Glyma.06G143300","Glyma.16G170000","Glyma.10G206900","Glyma.18G300800","Glyma.05G225300","Glyma.09G188600","Glyma.07G088300","Glyma.08G039400","Glyma.04G104600","Glyma.05G057500","Glyma.01G005600","Glyma.17G065200","Glyma.08G107300","Glyma.17G065300","Glyma.12G197600","Glyma.17G157400","Glyma.13G304400","Glyma.01G196800","Glyma.17G065100","Glyma.16G045000","Glyma.11G253900","Glyma.05G150400","Glyma.13G094900","Glyma.13G322500","Glyma.03G065500"], "paddingInner": 0, "paddingOuter": 0}, "axis": null},
      "y2": {"field": "g2", "bandPosition": 0.9},
      "x": {"datum": 0, "type": "quantitative", "scale": {"domain": [0, 1], "range": [100, 155]}, "axis": null}
     }},
    {"mark": {"type": "text", "align": "left", "dx": 4, "fontSize": 12, "color": "#333"},
     "encoding": {
      "y": {"field": "gl", "type": "nominal", "axis": null},
      "x": {"datum": 0, "type": "quantitative", "axis": null},
      "text": {"field": "grp"}
     }}
   ]
  }
 ]
}
]
}
